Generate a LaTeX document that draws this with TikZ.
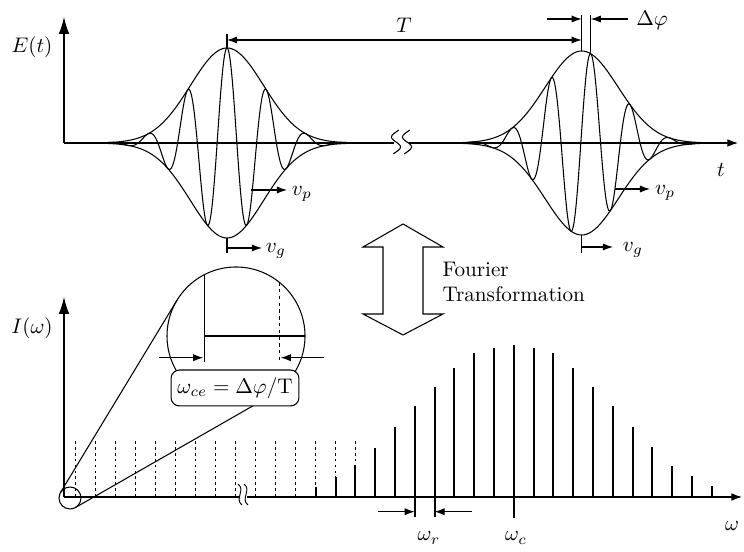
\documentclass[tikz,border=0pt]{standalone}
\usetikzlibrary{arrows.meta}
\begin{document}
\begin{tikzpicture}[x=0.473pt,y=-0.473pt,line width=0.5pt,
  vaxis/.style={-{Latex[length=8pt,width=5pt]}},
  haxis/.style={-{Latex[length=5pt,width=3.6pt]}},
  marrow/.style={-{Latex[length=4.8pt,width=3.4pt]}},
  dimarrow/.style={{Latex[length=4.8pt,width=3.4pt]}-{Latex[length=4.8pt,width=3.4pt]}},
  combline/.style={line width=0.95pt},
  dotline/.style={dash pattern=on 1.3pt off 1.5pt,line width=0.45pt},
  brk/.style={line width=0.45pt},
  lbl/.style={inner sep=0pt}]
\useasboundingbox (0,0) rectangle (744,552);

% ---------------- top: time domain ----------------
\coordinate (O1) at (64,143);
\coordinate (Etop) at (64,17);
\draw[vaxis] (O1) -- (Etop);
\node[lbl] (Elab) at (32,47) {$E(t)$};
\coordinate (b1) at (394,143);
\coordinate (b2) at (409,143);
\coordinate (tend) at (738,143);
\draw (O1) -- (b1);
\draw[haxis] (b2) -- (tend);
\draw plot[domain=-1.2:1.2,samples=40,smooth] ({396+4.5*sin(180*\x)},{142+10*\x});
\draw plot[domain=-1.2:1.2,samples=40,smooth] ({407+4.5*sin(180*\x)},{142+10*\x});
\node[lbl] (tlab) at (721,170) {$t$};

% pulse 1
\draw plot[domain=-1.25:1.25,samples=101,smooth] ({227+100*\x},{143-95*exp(-3.75*(\x)*(\x))});
\draw plot[domain=-1.25:1.25,samples=101,smooth] ({227+100*\x},{143+95*exp(-3.75*(\x)*(\x))});
\draw plot[domain=-1.25:1.25,samples=400] ({227+100*\x},{143-95*exp(-3.75*(\x)*(\x))*cos(911.4*(\x))});
% pulse 2
\draw plot[domain=-1.25:1.25,samples=101,smooth] ({581.7+100*\x},{143-92*exp(-3.75*(\x)*(\x))});
\draw plot[domain=-1.25:1.25,samples=101,smooth] ({581.7+100*\x},{143+92*exp(-3.75*(\x)*(\x))});
\draw plot[domain=-1.25:1.25,samples=400] ({581.7+100*\x},{143-92*exp(-3.75*(\x)*(\x))*cos(911.4*(\x-0.09))});

% period T
\coordinate (p1tick) at (227,34);
\coordinate (p1top) at (227,48);
\draw (p1tick) -- (p1top);
\coordinate (Tl) at (227,40);
\coordinate (Tr) at (581.7,40);
\draw[dimarrow] (Tl) -- (Tr);
\node[lbl] (Tlab) at (404,25) {$T$};

% delta phi
\coordinate (p2a) at (581.7,15);
\coordinate (p2ab) at (581.7,51);
\coordinate (p2b) at (590.7,15);
\coordinate (p2bb) at (590.7,53);
\draw (p2a) -- (p2ab);
\draw (p2b) -- (p2bb);
\coordinate (dpl) at (547,19);
\coordinate (dplt) at (581.7,19);
\coordinate (dpr) at (628,19);
\coordinate (dprt) at (590.7,19);
\draw[marrow] (dpl) -- (dplt);
\draw[marrow] (dpr) -- (dprt);
\node[lbl] (dphi) at (652,20) {$\Delta\varphi$};

% v_p and v_g, pulse 1
\coordinate (vp1a) at (251,190);
\coordinate (vp1b) at (287,190);
\draw[marrow] (vp1a) -- (vp1b);
\node[lbl] (vp1) at (302,194) {$v_p$};
\coordinate (vg1a) at (227,238);
\coordinate (vg1b) at (227,253);
\draw (vg1a) -- (vg1b);
\coordinate (vg1c) at (227,248);
\coordinate (vg1d) at (262,248);
\draw[marrow] (vg1c) -- (vg1d);
\node[lbl] (vg1) at (276,251) {$v_g$};
% v_p and v_g, pulse 2
\coordinate (vp2a) at (615,189);
\coordinate (vp2b) at (650,189);
\draw[marrow] (vp2a) -- (vp2b);
\node[lbl] (vp2) at (665,193) {$v_p$};
\coordinate (vg2a) at (581.7,235);
\coordinate (vg2b) at (581.7,253);
\draw (vg2a) -- (vg2b);
\coordinate (vg2c) at (581.7,247);
\coordinate (vg2d) at (613,247);
\draw[marrow] (vg2c) -- (vg2d);
\node[lbl] (vg2) at (633,250) {$v_g$};

% ---------------- Fourier double arrow ----------------
\draw (403,224) -- (443,247) -- (423,247) -- (423,314) -- (443,314) -- (403,335)
   -- (363,314) -- (383,314) -- (383,247) -- (363,247) -- cycle;
\node[lbl,anchor=west,align=left] (ft) at (442,282) {Fourier\\Transformation};

% ---------------- bottom: frequency domain ----------------
\coordinate (O2) at (64,497);
\coordinate (Itop) at (64,297);
\draw[vaxis] (O2) -- (Itop);
\node[lbl] (Ilab) at (32,328) {$I(\omega)$};
\coordinate (c1) at (239,497);
\coordinate (c2) at (247,497);
\coordinate (wend) at (742,497);
\draw (O2) -- (c1);
\draw[haxis] (c2) -- (wend);
\draw[brk] (238,484) .. controls (246,490) and (234,499) .. (242,505);
\draw[brk] (244,484) .. controls (252,490) and (240,499) .. (248,505);
\node[lbl] (wlab) at (732,526) {$\omega$};

% dotted comb lines
\foreach \i in {0,...,14}
  \draw[dotline] ({75.7+20*\i},497) -- ({75.7+20*\i},440);

% solid comb lines
\foreach \k/\h/\b in {0/486.7/497, 1/476.7/497, 2/465/497, 3/448/497, 4/426.7/497,
   5/406/517, 6/386.7/517, 7/368.3/497, 8/353.3/497, 9/347.7/497, 10/345/518,
   11/347.7/497, 12/353.3/497, 13/368.3/497, 14/386.7/497, 15/406/497,
   16/426.7/497, 17/447.3/497, 18/465.7/497, 19/476/497, 20/486/497}
  \draw[combline] ({315.7+19.8*\k},\b) -- ({315.7+19.8*\k},\h);

% omega_r arrows and labels
\coordinate (wra) at (378,511.7);
\coordinate (wrat) at (414.7,511.7);
\coordinate (wrb) at (472,511.7);
\coordinate (wrbt) at (434.5,511.7);
\draw[marrow] (wra) -- (wrat);
\draw[marrow] (wrb) -- (wrbt);
\node[lbl] (wr) at (429,538) {$\omega_r$};
\node[lbl] (wc) at (516,538) {$\omega_c$};

% ---------------- magnifier ----------------
\coordinate (sc) at (70,498);
\coordinate (bc) at (236,336);
\draw (sc) circle[radius=5.2pt];
\coordinate (t1a) at (60.6,492.3);
\coordinate (t1b) at (177.0,300.2);
\coordinate (t2a) at (75.5,507.5);
\coordinate (t2b) at (270.3,395.9);
\draw (t1a) -- (t1b);
\draw (t2a) -- (t2b);
\draw (bc) circle[radius=32.64pt];
\draw (204.3,274.7) -- (204.3,361.7);
\draw (204.3,336) -- (305,336);
\draw[dash pattern=on 1.6pt off 1.6pt,line width=0.45pt] (279.3,282.3) -- (279.3,361.7);
\coordinate (zl) at (159.3,357.7);
\coordinate (zlt) at (203.3,357.7);
\coordinate (zr) at (324,357.7);
\coordinate (zrt) at (280.7,357.7);
\draw[marrow] (zl) -- (zlt);
\draw[marrow] (zr) -- (zrt);
\node[draw,fill=white,rounded corners=4pt,minimum width=60.5pt,minimum height=17pt,inner sep=0pt]
  (wce) at (235,388) {$\omega_{ce}=\Delta\varphi/\mathrm{T}$};
\end{tikzpicture}
\end{document}
